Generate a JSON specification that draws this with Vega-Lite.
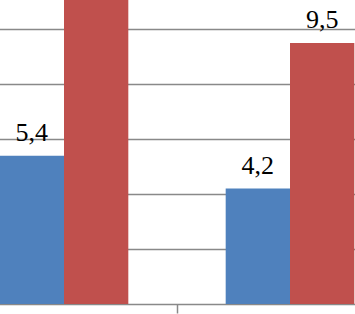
{
  "$schema": "https://vega.github.io/schema/vega-lite/v6.json",
  "width": 355,
  "height": 304,
  "autosize": {"type": "none"},
  "padding": {"left": 0, "top": 0, "right": 0, "bottom": 10},
  "config": {
    "view": {"stroke": null},
    "locale": {"number": {"decimal": ",", "thousands": ".", "grouping": [3], "currency": ["", "€"]}}
  },
  "data": {
    "values": [
      {"group": "A", "series": "s1", "value": 5.4},
      {"group": "A", "series": "s2", "value": 12.3},
      {"group": "B", "series": "s1", "value": 4.2},
      {"group": "B", "series": "s2", "value": 9.5}
    ]
  },
  "encoding": {
    "x": {
      "field": "group",
      "type": "nominal",
      "scale": {"domain": ["A", "B"], "range": [-49, 403], "paddingInner": 0, "paddingOuter": 0},
      "axis": {
        "labels": false,
        "title": null,
        "grid": false,
        "domainColor": "#898989",
        "domainWidth": 1.5,
        "tickColor": "#898989",
        "tickWidth": 1.5,
        "tickSize": 9,
        "bandPosition": 0
      }
    },
    "xOffset": {
      "field": "series",
      "type": "nominal",
      "scale": {"domain": ["s1", "s2"], "paddingInner": 0, "paddingOuter": 0.757}
    },
    "y": {
      "field": "value",
      "type": "quantitative",
      "scale": {"domain": [0, 11.066], "nice": false},
      "axis": {
        "title": null,
        "labels": false,
        "ticks": false,
        "domain": false,
        "values": [2, 4, 6, 8, 10],
        "gridColor": "#898989",
        "gridWidth": 1.5
      }
    }
  },
  "layer": [
    {
      "mark": {"type": "bar", "clip": true},
      "encoding": {
        "color": {
          "field": "series",
          "type": "nominal",
          "scale": {"domain": ["s1", "s2"], "range": ["#4F81BD", "#C0504D"]},
          "legend": null
        }
      }
    },
    {
      "transform": [{"filter": "datum.value <= 10.5"}],
      "mark": {"type": "text", "clip": true, "font": "Liberation Serif", "fontSize": 26, "baseline": "alphabetic", "dy": -15, "color": "#000000"},
      "encoding": {
        "text": {"field": "value", "type": "quantitative", "format": ".1f"}
      }
    }
  ]
}
